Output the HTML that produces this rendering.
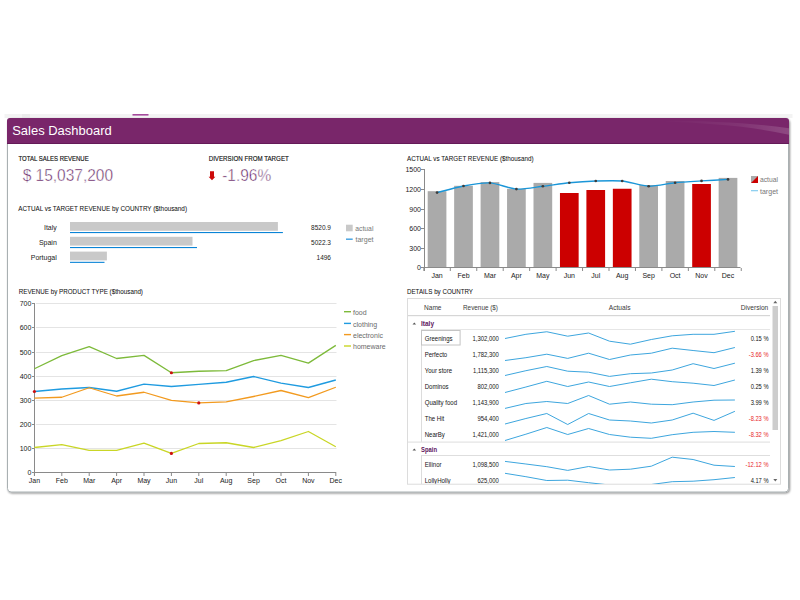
<!DOCTYPE html><html><head><meta charset="utf-8"><title>Sales Dashboard</title><style>
html,body{margin:0;padding:0;background:#fff;width:800px;height:600px;overflow:hidden}
svg{position:absolute;left:0;top:0;display:block}
text{font-family:"Liberation Sans", sans-serif}
</style></head><body>
<svg width="800" height="600" viewBox="0 0 800 600">
<defs>
<filter id="sh" x="-5%" y="-5%" width="110%" height="115%"><feGaussianBlur in="SourceAlpha" stdDeviation="1.2"/><feOffset dx="0.6" dy="1.3"/><feComponentTransfer><feFuncA type="linear" slope="0.45"/></feComponentTransfer><feMerge><feMergeNode/><feMergeNode in="SourceGraphic"/></feMerge></filter>
<linearGradient id="gl" x1="0" y1="0" x2="1" y2="0"><stop offset="0" stop-color="#ffffff" stop-opacity="0"/><stop offset="0.6" stop-color="#ffffff" stop-opacity="0.06"/><stop offset="1" stop-color="#ffffff" stop-opacity="0.16"/></linearGradient>
<clipPath id="hc"><path d="M7 144 V121 Q7 118 10 118 H786 Q789 118 789 121 V144 Z"/></clipPath>
<clipPath id="gc"><rect x="407" y="298" width="374" height="186"/></clipPath>
</defs>
<rect x="4.5" y="114" width="788" height="4" fill="#f3f3f3"/>
<rect x="22" y="114" width="8" height="4" fill="#ebebeb"/>
<rect x="132.5" y="114" width="16" height="1.6" fill="#a54a9c"/>
<rect x="7.5" y="118.5" width="781" height="373.5" rx="3.5" fill="#fff" stroke="#a9b0b2" stroke-width="1" filter="url(#sh)"/>
<g clip-path="url(#hc)">
<rect x="7" y="118" width="782" height="30" fill="#79266a"/>
<path d="M660 120.5 Q 740 121 790 128.5 V135 Q 740 123.5 660 121.5 Z" fill="url(#gl)"/>
<rect x="7" y="143" width="782" height="1" fill="#641a58"/>
</g>
<text x="12.2" y="135.2" font-size="13.5" fill="#fff" text-anchor="start" font-weight="normal" textLength="99.5" lengthAdjust="spacingAndGlyphs" >Sales Dashboard</text>
<text x="18.5" y="161.2" font-size="7" fill="#111" text-anchor="start" font-weight="normal" textLength="70.2" lengthAdjust="spacingAndGlyphs" stroke="#111" stroke-width="0.15">TOTAL SALES REVENUE</text>
<text x="22.7" y="180.7" font-size="17" fill="#5c165a" text-anchor="start" font-weight="normal" textLength="90.4" lengthAdjust="spacingAndGlyphs" stroke="#fff" stroke-width="0.48">$ 15,037,200</text>
<text x="208.7" y="161.2" font-size="7" fill="#111" text-anchor="start" font-weight="normal" textLength="80.1" lengthAdjust="spacingAndGlyphs" stroke="#111" stroke-width="0.15">DIVERSION FROM TARGET</text>
<path d="M210 171.2 H214 V176.8 H215.4 L212 180.3 L208.6 176.8 H210 Z" fill="#cc0a0a"/>
<text x="222.2" y="180.7" font-size="17" fill="#5c165a" text-anchor="start" font-weight="normal" textLength="49" lengthAdjust="spacingAndGlyphs" stroke="#fff" stroke-width="0.48">-1.96%</text>
<text x="18.3" y="211.2" font-size="7.6" fill="#111" text-anchor="start" font-weight="normal" textLength="168.7" lengthAdjust="spacingAndGlyphs" stroke="#111" stroke-width="0.05">ACTUAL vs TARGET REVENUE by COUNTRY ($thousand)</text>
<rect x="70" y="222" width="207.9" height="8.8" fill="#c9c9c9"/>
<rect x="70" y="232" width="212.9" height="1.1" fill="#0a84d6"/>
<text x="56.8" y="230.4" font-size="7" fill="#222" text-anchor="end" font-weight="normal" >Italy</text>
<text x="331" y="230.3" font-size="7" fill="#222" text-anchor="end" font-weight="normal" textLength="19.91" lengthAdjust="spacingAndGlyphs" >8520.9</text>
<rect x="70" y="236.8" width="122.5" height="8.8" fill="#c9c9c9"/>
<rect x="70" y="247" width="127.0" height="1.1" fill="#0a84d6"/>
<text x="56.8" y="245.20000000000002" font-size="7" fill="#222" text-anchor="end" font-weight="normal" >Spain</text>
<text x="331" y="245.10000000000002" font-size="7" fill="#222" text-anchor="end" font-weight="normal" textLength="19.91" lengthAdjust="spacingAndGlyphs" >5022.3</text>
<rect x="70" y="251.6" width="36.9" height="8.8" fill="#c9c9c9"/>
<rect x="70" y="261.8" width="34.5" height="1.1" fill="#0a84d6"/>
<text x="56.8" y="260.0" font-size="7" fill="#222" text-anchor="end" font-weight="normal" >Portugal</text>
<text x="331" y="259.9" font-size="7" fill="#222" text-anchor="end" font-weight="normal" textLength="14.48" lengthAdjust="spacingAndGlyphs" >1496</text>
<rect x="346" y="224.7" width="6.7" height="6.6" fill="#c9c9c9"/>
<text x="355.3" y="231" font-size="7" fill="#777" text-anchor="start" font-weight="normal" textLength="18.1" lengthAdjust="spacingAndGlyphs" >actual</text>
<rect x="346" y="238.6" width="6.7" height="1.1" fill="#0a84d6"/>
<text x="355.5" y="242" font-size="7" fill="#777" text-anchor="start" font-weight="normal" textLength="18" lengthAdjust="spacingAndGlyphs" >target</text>
<text x="18.75" y="293.5" font-size="7.6" fill="#111" text-anchor="start" font-weight="normal" textLength="124.2" lengthAdjust="spacingAndGlyphs" stroke="#111" stroke-width="0.05">REVENUE by PRODUCT TYPE ($thousand)</text>
<rect x="32" y="472" width="2" height="1" fill="#8a8a8a"/>
<text x="31.4" y="475.4" font-size="7" fill="#1a1a1a" text-anchor="end" font-weight="normal" >0</text>
<rect x="36" y="448" width="300.5" height="1" fill="#e4e4e4"/>
<rect x="32" y="448" width="2" height="1" fill="#8a8a8a"/>
<text x="31.4" y="451.4" font-size="7" fill="#1a1a1a" text-anchor="end" font-weight="normal" >100</text>
<rect x="36" y="424" width="300.5" height="1" fill="#e4e4e4"/>
<rect x="32" y="424" width="2" height="1" fill="#8a8a8a"/>
<text x="31.4" y="427.4" font-size="7" fill="#1a1a1a" text-anchor="end" font-weight="normal" >200</text>
<rect x="36" y="400" width="300.5" height="1" fill="#e4e4e4"/>
<rect x="32" y="400" width="2" height="1" fill="#8a8a8a"/>
<text x="31.4" y="403.4" font-size="7" fill="#1a1a1a" text-anchor="end" font-weight="normal" >300</text>
<rect x="36" y="376" width="300.5" height="1" fill="#e4e4e4"/>
<rect x="32" y="376" width="2" height="1" fill="#8a8a8a"/>
<text x="31.4" y="379.4" font-size="7" fill="#1a1a1a" text-anchor="end" font-weight="normal" >400</text>
<rect x="36" y="352" width="300.5" height="1" fill="#e4e4e4"/>
<rect x="32" y="352" width="2" height="1" fill="#8a8a8a"/>
<text x="31.4" y="355.4" font-size="7" fill="#1a1a1a" text-anchor="end" font-weight="normal" >500</text>
<rect x="36" y="327" width="300.5" height="1" fill="#e4e4e4"/>
<rect x="32" y="327" width="2" height="1" fill="#8a8a8a"/>
<text x="31.4" y="330.4" font-size="7" fill="#1a1a1a" text-anchor="end" font-weight="normal" >600</text>
<rect x="36" y="303" width="300.5" height="1" fill="#e4e4e4"/>
<rect x="32" y="303" width="2" height="1" fill="#8a8a8a"/>
<text x="31.4" y="306.4" font-size="7" fill="#1a1a1a" text-anchor="end" font-weight="normal" >700</text>
<rect x="34" y="303" width="1" height="173" fill="#8a8a8a"/>
<rect x="34" y="472" width="302.3" height="1" fill="#8a8a8a"/>
<rect x="33.90" y="473" width="1" height="3" fill="#8a8a8a"/>
<text x="34.4" y="482.6" font-size="7" fill="#1a1a1a" text-anchor="middle" font-weight="normal" >Jan</text>
<rect x="61.30" y="473" width="1" height="3" fill="#8a8a8a"/>
<text x="61.8" y="482.6" font-size="7" fill="#1a1a1a" text-anchor="middle" font-weight="normal" >Feb</text>
<rect x="88.70" y="473" width="1" height="3" fill="#8a8a8a"/>
<text x="89.2" y="482.6" font-size="7" fill="#1a1a1a" text-anchor="middle" font-weight="normal" >Mar</text>
<rect x="116.10" y="473" width="1" height="3" fill="#8a8a8a"/>
<text x="116.6" y="482.6" font-size="7" fill="#1a1a1a" text-anchor="middle" font-weight="normal" >Apr</text>
<rect x="143.50" y="473" width="1" height="3" fill="#8a8a8a"/>
<text x="144.0" y="482.6" font-size="7" fill="#1a1a1a" text-anchor="middle" font-weight="normal" >May</text>
<rect x="170.90" y="473" width="1" height="3" fill="#8a8a8a"/>
<text x="171.4" y="482.6" font-size="7" fill="#1a1a1a" text-anchor="middle" font-weight="normal" >Jun</text>
<rect x="198.30" y="473" width="1" height="3" fill="#8a8a8a"/>
<text x="198.8" y="482.6" font-size="7" fill="#1a1a1a" text-anchor="middle" font-weight="normal" >Jul</text>
<rect x="225.70" y="473" width="1" height="3" fill="#8a8a8a"/>
<text x="226.2" y="482.6" font-size="7" fill="#1a1a1a" text-anchor="middle" font-weight="normal" >Aug</text>
<rect x="253.10" y="473" width="1" height="3" fill="#8a8a8a"/>
<text x="253.6" y="482.6" font-size="7" fill="#1a1a1a" text-anchor="middle" font-weight="normal" >Sep</text>
<rect x="280.50" y="473" width="1" height="3" fill="#8a8a8a"/>
<text x="281.0" y="482.6" font-size="7" fill="#1a1a1a" text-anchor="middle" font-weight="normal" >Oct</text>
<rect x="307.90" y="473" width="1" height="3" fill="#8a8a8a"/>
<text x="308.4" y="482.6" font-size="7" fill="#1a1a1a" text-anchor="middle" font-weight="normal" >Nov</text>
<rect x="335.30" y="473" width="1" height="3" fill="#8a8a8a"/>
<text x="335.8" y="482.6" font-size="7" fill="#1a1a1a" text-anchor="middle" font-weight="normal" >Dec</text>
<polyline points="34.40,368.75 61.80,355.60 89.20,346.60 116.60,358.50 144.00,355.40 171.40,372.75 198.80,371.25 226.20,370.60 253.60,360.60 281.00,355.40 308.40,363.10 335.80,345.40" fill="none" stroke="#7dba3a" stroke-width="1.3" stroke-linejoin="round"/>
<polyline points="34.40,391.50 61.80,389.00 89.20,387.50 116.60,391.25 144.00,384.10 171.40,386.50 198.80,384.30 226.20,382.25 253.60,376.50 281.00,383.10 308.40,387.50 335.80,380.00" fill="none" stroke="#1f9be0" stroke-width="1.3" stroke-linejoin="round"/>
<polyline points="34.40,398.20 61.80,397.25 89.20,387.75 116.60,396.00 144.00,392.25 171.40,400.40 198.80,402.90 226.20,401.90 253.60,396.50 281.00,390.50 308.40,397.60 335.80,387.25" fill="none" stroke="#f29a1f" stroke-width="1.3" stroke-linejoin="round"/>
<polyline points="34.40,447.50 61.80,444.60 89.20,450.40 116.60,450.40 144.00,443.10 171.40,453.40 198.80,443.50 226.20,442.75 253.60,447.50 281.00,440.60 308.40,431.50 335.80,446.80" fill="none" stroke="#c9d626" stroke-width="1.3" stroke-linejoin="round"/>
<circle cx="34.40" cy="391.50" r="1.6" fill="#cc1010"/>
<circle cx="171.40" cy="372.75" r="1.6" fill="#cc1010"/>
<circle cx="198.80" cy="402.90" r="1.6" fill="#cc1010"/>
<circle cx="171.40" cy="453.40" r="1.6" fill="#cc1010"/>
<rect x="344" y="311.0" width="7" height="1.4" fill="#7dba3a"/>
<text x="353" y="315.0" font-size="7" fill="#6a6a6a" text-anchor="start" font-weight="normal" >food</text>
<rect x="344" y="322.7" width="7" height="1.4" fill="#1f9be0"/>
<text x="353" y="326.7" font-size="7" fill="#6a6a6a" text-anchor="start" font-weight="normal" >clothing</text>
<rect x="344" y="333.9" width="7" height="1.4" fill="#f29a1f"/>
<text x="353" y="337.90000000000003" font-size="7" fill="#6a6a6a" text-anchor="start" font-weight="normal" >electronic</text>
<rect x="344" y="345.3" width="7" height="1.4" fill="#c9d626"/>
<text x="353" y="349.3" font-size="7" fill="#6a6a6a" text-anchor="start" font-weight="normal" >homeware</text>
<text x="407" y="160.8" font-size="7.6" fill="#111" text-anchor="start" font-weight="normal" textLength="126.5" lengthAdjust="spacingAndGlyphs" stroke="#111" stroke-width="0.05">ACTUAL vs TARGET REVENUE ($thousand)</text>
<rect x="421" y="267" width="3" height="1" fill="#8a8a8a"/>
<text x="421" y="270.3" font-size="7" fill="#1a1a1a" text-anchor="end" font-weight="normal" >0</text>
<rect x="421" y="248" width="3" height="1" fill="#8a8a8a"/>
<text x="421" y="251.3" font-size="7" fill="#1a1a1a" text-anchor="end" font-weight="normal" >300</text>
<rect x="421" y="228" width="3" height="1" fill="#8a8a8a"/>
<text x="421" y="231.3" font-size="7" fill="#1a1a1a" text-anchor="end" font-weight="normal" >600</text>
<rect x="421" y="209" width="3" height="1" fill="#8a8a8a"/>
<text x="421" y="212.3" font-size="7" fill="#1a1a1a" text-anchor="end" font-weight="normal" >900</text>
<rect x="421" y="189" width="3" height="1" fill="#8a8a8a"/>
<text x="421" y="192.3" font-size="7" fill="#1a1a1a" text-anchor="end" font-weight="normal" >1200</text>
<rect x="421" y="169" width="3" height="1" fill="#8a8a8a"/>
<text x="421" y="172.3" font-size="7" fill="#1a1a1a" text-anchor="end" font-weight="normal" >1500</text>
<rect x="424" y="169" width="1" height="102" fill="#8a8a8a"/>
<rect x="424" y="267" width="316.5" height="1" fill="#8a8a8a"/>
<rect x="427.70" y="191.20" width="18.7" height="75.80" fill="#aaaaaa"/>
<rect x="454.15" y="185.80" width="18.7" height="81.20" fill="#aaaaaa"/>
<rect x="480.60" y="182.10" width="18.7" height="84.90" fill="#aaaaaa"/>
<rect x="507.05" y="188.75" width="18.7" height="78.25" fill="#aaaaaa"/>
<rect x="533.50" y="182.90" width="18.7" height="84.10" fill="#aaaaaa"/>
<rect x="559.95" y="193.00" width="18.7" height="74.00" fill="#cc0000"/>
<rect x="586.40" y="190.00" width="18.7" height="77.00" fill="#cc0000"/>
<rect x="612.85" y="188.75" width="18.7" height="78.25" fill="#cc0000"/>
<rect x="639.30" y="185.00" width="18.7" height="82.00" fill="#aaaaaa"/>
<rect x="665.75" y="181.00" width="18.7" height="86.00" fill="#aaaaaa"/>
<rect x="692.20" y="184.00" width="18.7" height="83.00" fill="#cc0000"/>
<rect x="718.65" y="177.90" width="18.7" height="89.10" fill="#aaaaaa"/>
<rect x="423.35" y="268" width="1" height="3" fill="#8a8a8a"/>
<rect x="449.80" y="268" width="1" height="3" fill="#8a8a8a"/>
<rect x="476.25" y="268" width="1" height="3" fill="#8a8a8a"/>
<rect x="502.70" y="268" width="1" height="3" fill="#8a8a8a"/>
<rect x="529.15" y="268" width="1" height="3" fill="#8a8a8a"/>
<rect x="555.60" y="268" width="1" height="3" fill="#8a8a8a"/>
<rect x="582.05" y="268" width="1" height="3" fill="#8a8a8a"/>
<rect x="608.50" y="268" width="1" height="3" fill="#8a8a8a"/>
<rect x="634.95" y="268" width="1" height="3" fill="#8a8a8a"/>
<rect x="661.40" y="268" width="1" height="3" fill="#8a8a8a"/>
<rect x="687.85" y="268" width="1" height="3" fill="#8a8a8a"/>
<rect x="714.30" y="268" width="1" height="3" fill="#8a8a8a"/>
<rect x="740.75" y="268" width="1" height="3" fill="#8a8a8a"/>
<text x="437.05" y="278.3" font-size="7" fill="#1a1a1a" text-anchor="middle" font-weight="normal" >Jan</text>
<text x="463.5" y="278.3" font-size="7" fill="#1a1a1a" text-anchor="middle" font-weight="normal" >Feb</text>
<text x="489.95" y="278.3" font-size="7" fill="#1a1a1a" text-anchor="middle" font-weight="normal" >Mar</text>
<text x="516.4" y="278.3" font-size="7" fill="#1a1a1a" text-anchor="middle" font-weight="normal" >Apr</text>
<text x="542.85" y="278.3" font-size="7" fill="#1a1a1a" text-anchor="middle" font-weight="normal" >May</text>
<text x="569.3" y="278.3" font-size="7" fill="#1a1a1a" text-anchor="middle" font-weight="normal" >Jun</text>
<text x="595.75" y="278.3" font-size="7" fill="#1a1a1a" text-anchor="middle" font-weight="normal" >Jul</text>
<text x="622.2" y="278.3" font-size="7" fill="#1a1a1a" text-anchor="middle" font-weight="normal" >Aug</text>
<text x="648.65" y="278.3" font-size="7" fill="#1a1a1a" text-anchor="middle" font-weight="normal" >Sep</text>
<text x="675.1" y="278.3" font-size="7" fill="#1a1a1a" text-anchor="middle" font-weight="normal" >Oct</text>
<text x="701.55" y="278.3" font-size="7" fill="#1a1a1a" text-anchor="middle" font-weight="normal" >Nov</text>
<text x="728.0" y="278.3" font-size="7" fill="#1a1a1a" text-anchor="middle" font-weight="normal" >Dec</text>
<path d="M437.05,192.60 C440.14,191.83 457.33,187.13 463.50,186.00 C469.67,184.87 483.78,182.54 489.95,182.90 C496.12,183.26 510.23,188.71 516.40,189.10 C522.57,189.49 536.68,186.99 542.85,186.25 C549.02,185.51 563.13,183.36 569.30,182.75 C575.47,182.14 589.58,181.20 595.75,181.00 C601.92,180.80 616.03,180.39 622.20,181.00 C628.37,181.61 642.48,186.05 648.65,186.25 C654.82,186.45 668.93,183.37 675.10,182.75 C681.27,182.13 695.38,181.29 701.55,180.90 C707.72,180.51 724.91,179.58 728.00,179.40" fill="none" stroke="#1a96d8" stroke-width="1.4"/>
<circle cx="437.05" cy="192.60" r="1.35" fill="#3c3c3c"/>
<circle cx="463.50" cy="186.00" r="1.35" fill="#3c3c3c"/>
<circle cx="489.95" cy="182.90" r="1.35" fill="#3c3c3c"/>
<circle cx="516.40" cy="189.10" r="1.35" fill="#3c3c3c"/>
<circle cx="542.85" cy="186.25" r="1.35" fill="#3c3c3c"/>
<circle cx="569.30" cy="182.75" r="1.35" fill="#3c3c3c"/>
<circle cx="595.75" cy="181.00" r="1.35" fill="#3c3c3c"/>
<circle cx="622.20" cy="181.00" r="1.35" fill="#3c3c3c"/>
<circle cx="648.65" cy="186.25" r="1.35" fill="#3c3c3c"/>
<circle cx="675.10" cy="182.75" r="1.35" fill="#3c3c3c"/>
<circle cx="701.55" cy="180.90" r="1.35" fill="#3c3c3c"/>
<circle cx="728.00" cy="179.40" r="1.35" fill="#3c3c3c"/>
<path d="M751 176 H758 V183 H751 Z" fill="#cc0000"/>
<path d="M751 176 H758 L751 183 Z" fill="#aaaaaa"/>
<text x="760" y="181.9" font-size="7" fill="#777" text-anchor="start" font-weight="normal" textLength="18" lengthAdjust="spacingAndGlyphs" >actual</text>
<rect x="751" y="190" width="7" height="1.3" fill="#8fd0f0"/>
<text x="760" y="193.5" font-size="7" fill="#777" text-anchor="start" font-weight="normal" textLength="18" lengthAdjust="spacingAndGlyphs" >target</text>
<text x="407" y="294" font-size="7.6" fill="#111" text-anchor="start" font-weight="normal" textLength="66" lengthAdjust="spacingAndGlyphs" stroke="#111" stroke-width="0.05">DETAILS by COUNTRY</text>
<rect x="407.5" y="298.5" width="373" height="185.7" fill="#fff" stroke="#dcdcdc" stroke-width="1"/>
<g clip-path="url(#gc)">
<text x="424" y="309.8" font-size="7" fill="#3a3a3a" text-anchor="start" font-weight="normal" textLength="17.5" lengthAdjust="spacingAndGlyphs" >Name</text>
<text x="463" y="309.8" font-size="7" fill="#3a3a3a" text-anchor="start" font-weight="normal" textLength="35" lengthAdjust="spacingAndGlyphs" >Revenue ($)</text>
<text x="619.6" y="309.8" font-size="7" fill="#3a3a3a" text-anchor="middle" font-weight="normal" textLength="21.75" lengthAdjust="spacingAndGlyphs" >Actuals</text>
<text x="768.3" y="309.8" font-size="7" fill="#3a3a3a" text-anchor="end" font-weight="normal" textLength="27.5" lengthAdjust="spacingAndGlyphs" >Diversion</text>
<rect x="408" y="315" width="362" height="1.2" fill="#d6d6d6"/>
<path d="M412.5 324.6 L414.3 322.4 L416.1 324.6 Z" fill="#555"/>
<text x="421" y="325.8" font-size="7" fill="#5e165e" text-anchor="start" font-weight="bold" textLength="13" lengthAdjust="spacingAndGlyphs" >Italy</text>
<rect x="421" y="329" width="349" height="1" fill="#e6e6e6"/>
<rect x="421" y="330" width="1" height="112" fill="#dcdcdc"/>
<text x="424.7" y="340.79999999999995" font-size="7" fill="#151515" text-anchor="start" font-weight="normal" textLength="27.93" lengthAdjust="spacingAndGlyphs" >Greenings</text>
<text x="498.8" y="340.79999999999995" font-size="7" fill="#151515" text-anchor="end" font-weight="normal" textLength="26.31" lengthAdjust="spacingAndGlyphs" >1,302,000</text>
<text x="768.5" y="340.79999999999995" font-size="7" fill="#111" text-anchor="end" font-weight="normal" textLength="17.87" lengthAdjust="spacingAndGlyphs" >0.15 %</text>
<polyline points="505.00,338.50 525.90,334.30 546.80,331.75 567.70,336.20 588.60,333.00 609.50,341.20 630.40,344.20 651.30,339.50 672.20,335.80 693.10,334.30 714.00,334.30 734.90,331.30" fill="none" stroke="#3da6de" stroke-width="1" stroke-linejoin="round"/>
<text x="424.7" y="356.7" font-size="7" fill="#151515" text-anchor="start" font-weight="normal" textLength="22.55" lengthAdjust="spacingAndGlyphs" >Perfecto</text>
<text x="498.8" y="356.7" font-size="7" fill="#151515" text-anchor="end" font-weight="normal" textLength="26.31" lengthAdjust="spacingAndGlyphs" >1,782,300</text>
<text x="768.5" y="356.7" font-size="7" fill="#e8262a" text-anchor="end" font-weight="normal" textLength="19.78" lengthAdjust="spacingAndGlyphs" >-3.66 %</text>
<polyline points="505.00,360.50 525.90,357.70 546.80,354.20 567.70,358.40 588.60,353.20 609.50,359.50 630.40,355.00 651.30,353.20 672.20,348.20 693.10,350.50 714.00,352.70 734.90,347.50" fill="none" stroke="#3da6de" stroke-width="1" stroke-linejoin="round"/>
<text x="424.7" y="372.7" font-size="7" fill="#151515" text-anchor="start" font-weight="normal" textLength="27.38" lengthAdjust="spacingAndGlyphs" >Your store</text>
<text x="498.8" y="372.7" font-size="7" fill="#151515" text-anchor="end" font-weight="normal" textLength="25.87" lengthAdjust="spacingAndGlyphs" >1,115,300</text>
<text x="768.5" y="372.7" font-size="7" fill="#111" text-anchor="end" font-weight="normal" textLength="17.87" lengthAdjust="spacingAndGlyphs" >1.39 %</text>
<polyline points="505.00,375.50 525.90,370.70 546.80,366.50 567.70,371.20 588.60,372.20 609.50,376.40 630.40,373.70 651.30,373.00 672.20,370.00 693.10,363.70 714.00,368.50 734.90,363.20" fill="none" stroke="#3da6de" stroke-width="1" stroke-linejoin="round"/>
<text x="424.7" y="388.59999999999997" font-size="7" fill="#151515" text-anchor="start" font-weight="normal" textLength="23.89" lengthAdjust="spacingAndGlyphs" >Dominos</text>
<text x="498.8" y="388.59999999999997" font-size="7" fill="#151515" text-anchor="end" font-weight="normal" textLength="21.38" lengthAdjust="spacingAndGlyphs" >802,000</text>
<text x="768.5" y="388.59999999999997" font-size="7" fill="#111" text-anchor="end" font-weight="normal" textLength="17.87" lengthAdjust="spacingAndGlyphs" >0.25 %</text>
<polyline points="505.00,392.50 525.90,387.00 546.80,381.30 567.70,386.50 588.60,382.00 609.50,386.50 630.40,382.80 651.30,379.20 672.20,381.70 693.10,383.20 714.00,385.50 734.90,380.00" fill="none" stroke="#3da6de" stroke-width="1" stroke-linejoin="round"/>
<text x="424.7" y="404.5" font-size="7" fill="#151515" text-anchor="start" font-weight="normal" textLength="32.31" lengthAdjust="spacingAndGlyphs" >Quality food</text>
<text x="498.8" y="404.5" font-size="7" fill="#151515" text-anchor="end" font-weight="normal" textLength="26.31" lengthAdjust="spacingAndGlyphs" >1,143,900</text>
<text x="768.5" y="404.5" font-size="7" fill="#111" text-anchor="end" font-weight="normal" textLength="17.87" lengthAdjust="spacingAndGlyphs" >3.99 %</text>
<polyline points="505.00,408.40 525.90,403.50 546.80,401.50 567.70,403.50 588.60,395.50 609.50,404.20 630.40,402.00 651.30,404.20 672.20,404.70 693.10,402.00 714.00,400.20 734.90,400.00" fill="none" stroke="#3da6de" stroke-width="1" stroke-linejoin="round"/>
<text x="424.7" y="420.5" font-size="7" fill="#151515" text-anchor="start" font-weight="normal" textLength="19.52" lengthAdjust="spacingAndGlyphs" >The Hit</text>
<text x="498.8" y="420.5" font-size="7" fill="#151515" text-anchor="end" font-weight="normal" textLength="21.38" lengthAdjust="spacingAndGlyphs" >954,400</text>
<text x="768.5" y="420.5" font-size="7" fill="#e8262a" text-anchor="end" font-weight="normal" textLength="19.78" lengthAdjust="spacingAndGlyphs" >-8.23 %</text>
<polyline points="505.00,424.00 525.90,418.50 546.80,413.50 567.70,424.50 588.60,413.50 609.50,420.00 630.40,421.00 651.30,423.00 672.20,420.00 693.10,413.20 714.00,420.40 734.90,411.30" fill="none" stroke="#3da6de" stroke-width="1" stroke-linejoin="round"/>
<text x="424.7" y="436.5" font-size="7" fill="#151515" text-anchor="start" font-weight="normal" textLength="20.19" lengthAdjust="spacingAndGlyphs" >NearBy</text>
<text x="498.8" y="436.5" font-size="7" fill="#151515" text-anchor="end" font-weight="normal" textLength="26.31" lengthAdjust="spacingAndGlyphs" >1,421,000</text>
<text x="768.5" y="436.5" font-size="7" fill="#e8262a" text-anchor="end" font-weight="normal" textLength="19.78" lengthAdjust="spacingAndGlyphs" >-8.32 %</text>
<polyline points="505.00,440.50 525.90,434.20 546.80,427.50 567.70,434.50 588.60,428.50 609.50,434.50 630.40,437.20 651.30,438.30 672.20,434.70 693.10,432.30 714.00,431.50 734.90,432.30" fill="none" stroke="#3da6de" stroke-width="1" stroke-linejoin="round"/>
<rect x="421.5" y="330.5" width="38.6" height="14.5" fill="none" stroke="#c4c4c4" stroke-width="1"/>
<rect x="408" y="441.5" width="362" height="1.2" fill="#e3e3e3"/>
<path d="M412.5 450.6 L414.3 448.4 L416.1 450.6 Z" fill="#555"/>
<text x="421" y="451.8" font-size="7" fill="#5e165e" text-anchor="start" font-weight="bold" textLength="16" lengthAdjust="spacingAndGlyphs" >Spain</text>
<rect x="421" y="455" width="349" height="1" fill="#dedede"/>
<rect x="421" y="456" width="1" height="30" fill="#dcdcdc"/>
<text x="424.7" y="466.79999999999995" font-size="7" fill="#151515" text-anchor="start" font-weight="normal" textLength="16.83" lengthAdjust="spacingAndGlyphs" >Ellinor</text>
<text x="498.8" y="466.79999999999995" font-size="7" fill="#151515" text-anchor="end" font-weight="normal" textLength="26.31" lengthAdjust="spacingAndGlyphs" >1,098,500</text>
<text x="768.5" y="466.79999999999995" font-size="7" fill="#e8262a" text-anchor="end" font-weight="normal" textLength="22.97" lengthAdjust="spacingAndGlyphs" >-12.12 %</text>
<polyline points="505.00,461.40 525.90,464.00 546.80,466.70 567.70,470.40 588.60,466.50 609.50,470.00 630.40,469.20 651.30,466.20 672.20,457.20 693.10,459.50 714.00,465.20 734.90,466.50" fill="none" stroke="#3da6de" stroke-width="1" stroke-linejoin="round"/>
<text x="424.7" y="482.59999999999997" font-size="7" fill="#151515" text-anchor="start" font-weight="normal" textLength="25.91" lengthAdjust="spacingAndGlyphs" >LollyHolly</text>
<text x="498.8" y="482.59999999999997" font-size="7" fill="#151515" text-anchor="end" font-weight="normal" textLength="21.38" lengthAdjust="spacingAndGlyphs" >625,000</text>
<text x="768.5" y="482.59999999999997" font-size="7" fill="#111" text-anchor="end" font-weight="normal" textLength="17.87" lengthAdjust="spacingAndGlyphs" >4.17 %</text>
<polyline points="505.00,473.30 525.90,476.70 546.80,480.50 567.70,480.20 588.60,482.70 609.50,485.00 630.40,486.00 651.30,484.50 672.20,481.70 693.10,481.20 714.00,479.70 734.90,477.50" fill="none" stroke="#3da6de" stroke-width="1" stroke-linejoin="round"/>
</g>
<rect x="772.5" y="306" width="5.5" height="124" fill="#cdcdcd"/>
<path d="M773.3 303.3 L775.3 300.8 L777.3 303.3 Z" fill="#666"/>
<path d="M773.3 479 L775.3 481.5 L777.3 479 Z" fill="#666"/>
</svg></body></html>
